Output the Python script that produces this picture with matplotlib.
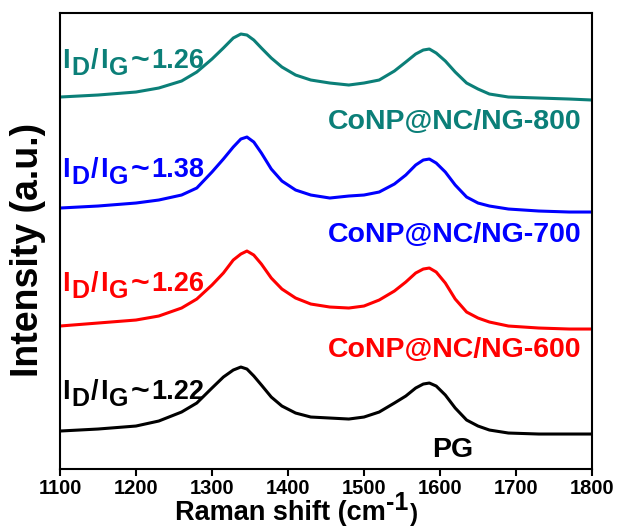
import matplotlib
matplotlib.use("Agg")
import matplotlib.pyplot as plt

plt.rcParams['font.family'] = ['Liberation Sans', 'DejaVu Sans']
plt.rcParams['font.weight'] = 'bold'

# Raman shift (cm^-1)
raman_shift = [1100, 1150, 1200, 1230, 1260, 1280, 1300, 1315, 1328, 1338, 1346,
               1355, 1365, 1378, 1392, 1410, 1430, 1455, 1480, 1500, 1520, 1540,
               1555, 1568, 1578, 1586, 1595, 1607, 1620, 1635, 1650, 1665, 1690,
               1730, 1770, 1800]

# Intensities (a.u., offset-stacked as in the figure)
int_pg = [38, 40, 43, 48, 57, 66, 81, 92, 99, 102, 100,
          93, 84, 72, 63, 56, 52, 51, 50, 52, 57, 66,
          73, 81, 85, 86, 83, 74, 61, 49, 43, 39, 36,
          35, 35, 35]
int_600 = [143, 146, 149, 153, 161, 170, 184, 196, 209, 215, 218,
           214, 205, 191, 180, 171, 165, 162, 161, 163, 169, 178,
           187, 196, 200, 201, 197, 186, 170, 157, 151, 147, 143,
           141, 140, 140]
int_700 = [261, 263, 266, 269, 274, 281, 297, 310, 322, 330, 332,
           327, 316, 300, 288, 279, 274, 271, 273, 274, 277, 285,
           294, 304, 309, 310, 306, 297, 284, 272, 266, 263, 260,
           258, 257, 257]
int_800 = [372, 374, 377, 381, 388, 397, 410, 421, 431, 435, 434,
           429, 421, 411, 402, 394, 389, 386, 384, 386, 389, 398,
           407, 415, 419, 420, 416, 408, 397, 386, 380, 375, 372,
           371, 370, 369]

series = [int_pg, int_600, int_700, int_800]
sample_names = ['PG', 'CoNP@NC/NG-600', 'CoNP@NC/NG-700', 'CoNP@NC/NG-800']
ratio_values = ['1.22', '1.26', '1.38', '1.26']
colors = ['#000000', '#FF0000', '#0000FF', '#0B7F78']

xticks = [1100, 1200, 1300, 1400, 1500, 1600, 1700, 1800]

fig = plt.figure(figsize=(6.17, 5.27), dpi=100)
ax = fig.add_axes([0.0972, 0.110, 0.8623, 0.8653])

for y, c in zip(series, colors):
    ax.plot(raman_shift, y, color=c, lw=2.2, solid_joinstyle='round')

ax.set_xlim(1100, 1800)
ax.set_ylim(0, 456)
ax.set_xticks(xticks)
ax.set_yticks([])
ax.tick_params(axis='x', direction='out', length=5, width=1.5, labelsize=14.5, pad=2.5)
for lab in ax.get_xticklabels():
    lab.set_fontweight('bold')
for s in ax.spines.values():
    s.set_linewidth(1.5)

# x label: "Raman shift (cm" + superscript "-1" + ")"
xl = fig.text(175 / 617, 1 - 520 / 527, 'Raman shift (cm', fontsize=19.5,
              fontweight='bold', ha='left', va='baseline')
sup = ax.annotate('-1', xy=(1, 0), xycoords=xl, xytext=(0.5, 8),
                  textcoords='offset points', fontsize=18, fontweight='bold',
                  ha='left', va='bottom')
ax.annotate(')', xy=(1, 0), xycoords=sup, xytext=(0.5, -8),
            textcoords='offset points', fontsize=17.5, fontweight='bold',
            ha='left', va='bottom')

fig.text(28 / 617, 1 - 250 / 527, 'Intensity (a.u.)', fontsize=27,
         fontweight='bold', ha='center', va='center', rotation=90)

# sample labels
name_y = [12, 112, 227, 340]
for nm, yy, c in zip(sample_names, name_y, colors):
    if nm == 'PG':
        ax.text(1617, yy, nm, color=c, fontsize=20.5, fontweight='bold',
                ha='center', va='baseline')
    else:
        ax.text(1786, yy, nm, color=c, fontsize=20.5, fontweight='bold',
                ha='right', va='baseline')

# ratio labels  I_D/I_G~value
ratio_y = [70, 178, 292, 401]
main_fs = 19.5
sub_fs = 18
sub_dy = -4
for val, yy, c in zip(ratio_values, ratio_y, colors):
    t = ax.text(1102.5, yy, 'I', color=c, fontsize=main_fs, fontweight='bold',
                ha='left', va='baseline')
    parts = [('D', sub_fs, 1.2, sub_dy), ('/', main_fs, 1.2, -sub_dy),
             ('I', main_fs, 1.2, 0), ('G', sub_fs, 1.2, sub_dy),
             ('~', 23, 1.5, -sub_dy - 1.5), (val, main_fs, 1.5, 1.5)]
    prev = t
    for txt, fs, dx, dy in parts:
        prev = ax.annotate(txt, xy=(1, 0), xycoords=prev, xytext=(dx, dy),
                           textcoords='offset points', color=c, fontsize=fs,
                           fontweight='bold', ha='left', va='bottom')

fig.savefig('out.png', dpi=100)
